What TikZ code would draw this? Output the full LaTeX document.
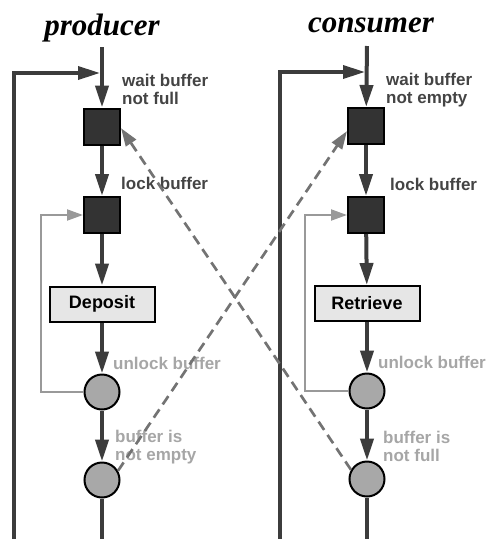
\documentclass[tikz,border=0pt]{standalone}
\usepackage{fontspec}
\setmainfont{Liberation Serif}
\setsansfont{Liberation Sans}
\usetikzlibrary{arrows.meta}

\definecolor{flowgray}{HTML}{3C3C3C}
\definecolor{lockgray}{HTML}{333333}
\definecolor{semgray}{HTML}{A8A8A8}
\definecolor{boxgray}{HTML}{E6E6E6}
\definecolor{loopgray}{HTML}{999999}
\definecolor{signalgray}{HTML}{737373}
\definecolor{darklabel}{HTML}{444444}
\definecolor{lightlabel}{HTML}{A6A6A6}

\begin{document}
\begin{tikzpicture}[x=1pt,y=-1pt,
    flow/.style={draw=flowgray,line width=4pt,-{Triangle[length=22pt,width=13pt]}},
    trunk/.style={draw=flowgray,line width=4pt},
    backloop/.style={draw=flowgray,line width=3.5pt,-{Triangle[length=22pt,width=13pt]}},
    innerloop/.style={draw=loopgray,line width=2pt,-{Triangle[length=16pt,width=11pt]}},
    signal/.style={draw=signalgray,line width=2.7pt,dash pattern=on 10pt off 6pt,
        -{Triangle[length=18pt,width=12pt]}},
    lockbox/.style={draw=black,fill=lockgray,line width=2pt,minimum size=36pt,inner sep=0pt},
    sembox/.style={circle,draw=black,fill=semgray,line width=2pt,minimum size=35pt,inner sep=0pt},
    taskbox/.style={draw=black,fill=boxgray,line width=2pt,minimum width=105pt,minimum height=35pt,
        font=\sffamily\bfseries\fontsize{18}{18}\selectfont},
    darktext/.style={anchor=north west,inner sep=0pt,align=left,text=darklabel,
        font=\sffamily\bfseries\fontsize{17}{17.5}\selectfont},
    lighttext/.style={darktext,text=lightlabel},
    titletext/.style={anchor=base,inner sep=0pt,font=\rmfamily\bfseries\itshape\fontsize{31}{36}\selectfont}
    ]
        \useasboundingbox (0,0) rectangle (492,539);

        % producer column
        \coordinate (ptop) at (102,47);
        \coordinate (pj)   at (100,73);
        \coordinate (pout) at (14,539);
        \coordinate (pin)  at (41,215);
        \coordinate (pbot) at (102,539);

        % consumer column
        \coordinate (ctop) at (367,46);
        \coordinate (cj)   at (365,72);
        \coordinate (cout) at (280,539);
        \coordinate (cin)  at (305,215);
        \coordinate (cbot) at (367,539);

        \node[titletext] (ptitle) at (102,35) {producer};
        \node[titletext] (ctitle) at (371,32) {consumer};

        \node[lockbox] (ps1)  at (102,126.5) {};
        \node[lockbox] (ps2)  at (102,215)   {};
        \node[taskbox] (pdep) at (102,304)   {Deposit};
        \node[sembox]  (pu1)  at (102,392)   {};
        \node[sembox]  (pu2)  at (102,480)   {};

        \node[lockbox] (cs1)  at (366,126)   {};
        \node[lockbox] (cs2)  at (366,215)   {};
        \node[taskbox] (cret) at (367,303.5) {Retrieve};
        \node[sembox]  (cu1)  at (367,391)   {};
        \node[sembox]  (cu2)  at (367,479)   {};

        \node[darktext]  (pwait)   at (122,74)  {wait buffer\\not full};
        \node[darktext]  (plock)   at (121,177) {lock buffer};
        \node[lighttext] (punlock) at (113,357) {unlock buffer};
        \node[lighttext] (pfull)   at (115,430) {buffer is\\not empty};

        \node[darktext]  (cwait)   at (386,73)  {wait buffer\\not empty};
        \node[darktext]  (clock)   at (390,178) {lock buffer};
        \node[lighttext] (cunlock) at (378,356) {unlock buffer};
        \node[lighttext] (cfull)   at (383,431) {buffer is\\not full};

        \draw[flow] (ptop) -- (ps1);
        \draw[flow] (ps1) -- (ps2);
        \draw[flow] (ps2) -- (pdep);
        \draw[flow] (pdep) -- (pu1);
        \draw[flow] (pu1) -- (pu2);
        \draw[trunk] (pu2) -- (pbot);
        \draw[backloop] (pout) |- (pj);
        \draw[innerloop] (pu1.west) -| (pin) -- (ps2.west);

        \draw[flow] (ctop) -- (cs1);
        \draw[flow] (cs1) -- (cs2);
        \draw[flow] (cs2) -- (cret);
        \draw[flow] (cret) -- (cu1);
        \draw[flow] (cu1) -- (cu2);
        \draw[trunk] (cu2) -- (cbot);
        \draw[backloop] (cout) |- (cj);
        \draw[innerloop] (cu1.west) -| (cin) -- (cs2.west);

        % signals between the two sides
        \draw[signal] (pu2.30) -- (cs1.195);
        \draw[signal] (cu2.150) -- (ps1.-5);
\end{tikzpicture}
\end{document}
